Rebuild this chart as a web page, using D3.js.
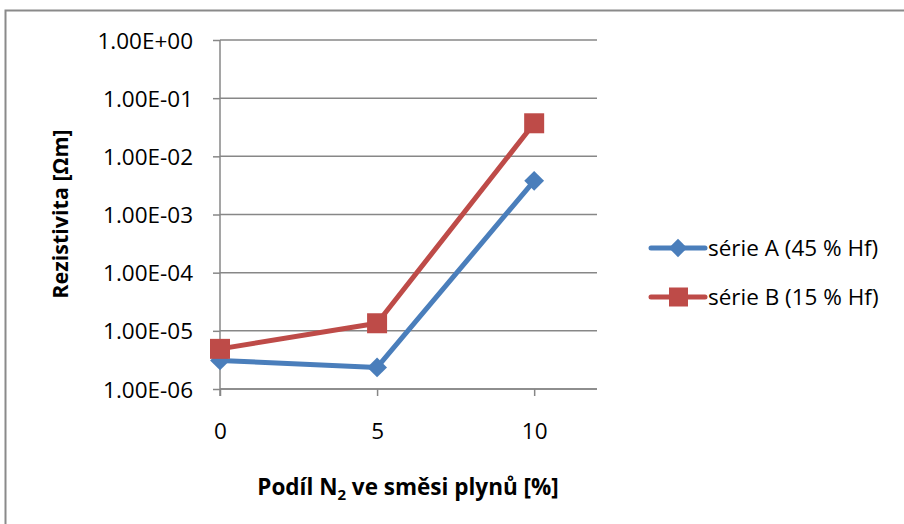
<!DOCTYPE html>
<html>
<head>
<meta charset="utf-8">
<script src="https://cdn.jsdelivr.net/npm/d3@7"></script>
<style>
  html, body { margin: 0; padding: 0; background: #fff; }
  svg { display: block; }
  text { font-family: "Open Sans", Lato, sans-serif; fill: #000; }
</style>
</head>
<body>
<svg id="chart" width="904" height="524"></svg>
<script>
// Podíl N2 v plynné směsi [%]
const nitrogenShare = [0, 5, 10];
// Rezistivita [Ωm]
const seriesA = [3.1e-6, 2.35e-6, 3.8e-3];
const seriesB = [4.9e-6, 1.35e-5, 3.7e-2];
const seriesNames = ["série A (45 % Hf)", "série B (15 % Hf)"];
const xTickValues = [0, 5, 10];
const xTickLabels = ["0", "5", "10"];
const yTickValues = [1, 1e-1, 1e-2, 1e-3, 1e-4, 1e-5, 1e-6];
const yTickLabels = ["1.00E+00", "1.00E-01", "1.00E-02", "1.00E-03", "1.00E-04", "1.00E-05", "1.00E-06"];

const svg = d3.select("#chart");
const font = "'Open Sans', Lato, sans-serif";
const labelSize = 22.5;
const gridColor = "#878787";
const blue = "#4A7EBB";
const red = "#BE4B48";

// outer chart frame
svg.append("path")
  .attr("d", "M5.5,530 V10.5 H910")
  .attr("fill", "none")
  .attr("stroke", "#8a8a8a")
  .attr("stroke-width", 2);

const x = d3.scaleLinear().domain([0, 12]).range([220, 597]);
const y = d3.scaleLog().domain([1e-6, 1]).range([389, 40]);

// horizontal gridlines
svg.append("g")
  .selectAll("line")
  .data(yTickValues)
  .join("line")
  .attr("x1", x(0)).attr("x2", x(12))
  .attr("y1", d => y(d)).attr("y2", d => y(d))
  .attr("stroke", gridColor)
  .attr("stroke-width", 1.5);

// y axis
const yAxis = d3.axisLeft(y)
  .tickValues(yTickValues)
  .tickFormat((d, i) => yTickLabels[i])
  .tickSize(7)
  .tickPadding(20);
const gy = svg.append("g").attr("transform", `translate(${x(0)},0)`).call(yAxis);
gy.select(".domain").remove();
gy.selectAll(".tick line").attr("stroke", gridColor).attr("stroke-width", 1.5);
gy.selectAll(".tick text")
  .attr("font-family", font)
  .attr("font-size", labelSize)
  .attr("dy", "0.36em")
  .attr("fill", "#000");
svg.append("line")
  .attr("x1", x(0)).attr("x2", x(0))
  .attr("y1", y(1)).attr("y2", y(1e-6) + 7)
  .attr("stroke", gridColor).attr("stroke-width", 1.5);

// x axis
const xAxis = d3.axisBottom(x)
  .tickValues(xTickValues)
  .tickFormat((d, i) => xTickLabels[i])
  .tickSize(7);
const gx = svg.append("g").attr("transform", `translate(0,${y(1e-6)})`).call(xAxis);
gx.select(".domain").remove();
gx.selectAll(".tick line").attr("stroke", gridColor).attr("stroke-width", 1.5);
gx.selectAll(".tick text")
  .attr("font-family", font)
  .attr("font-size", labelSize)
  .attr("y", 50)
  .attr("dy", 0)
  .attr("fill", "#000");
svg.append("line")
  .attr("x1", x(0)).attr("x2", x(12))
  .attr("y1", y(1e-6)).attr("y2", y(1e-6))
  .attr("stroke", gridColor).attr("stroke-width", 1.5);

// axis titles
svg.append("text")
  .attr("transform", `translate(68,214) rotate(-90)`)
  .attr("text-anchor", "middle")
  .attr("font-weight", "bold")
  .attr("font-size", 21.5)
  .text("Rezistivita [Ωm]");

const xt = svg.append("text")
  .attr("x", 408).attr("y", 495)
  .attr("text-anchor", "middle")
  .attr("font-weight", "bold")
  .attr("font-size", 22.5);
xt.append("tspan").text("Podíl N");
xt.append("tspan").attr("font-size", 15).attr("dy", 5).text("2");
xt.append("tspan").attr("dy", -5).text(" ve směsi plynů [%]");

// series
const line = d3.line().x(d => x(d[0])).y(d => y(d[1]));
const ptsA = nitrogenShare.map((v, i) => [v, seriesA[i]]);
const ptsB = nitrogenShare.map((v, i) => [v, seriesB[i]]);

svg.append("path").datum(ptsA).attr("d", line)
  .attr("fill", "none").attr("stroke", blue).attr("stroke-width", 5).attr("stroke-linejoin", "round");
svg.append("g").selectAll("path").data(ptsA).join("path")
  .attr("transform", d => `translate(${x(d[0])},${y(d[1])}) rotate(45)`)
  .attr("d", "M-7,-7H7V7H-7Z")
  .attr("fill", blue);

svg.append("path").datum(ptsB).attr("d", line)
  .attr("fill", "none").attr("stroke", red).attr("stroke-width", 5).attr("stroke-linejoin", "round");
svg.append("g").selectAll("rect").data(ptsB).join("rect")
  .attr("x", d => x(d[0]) - 10).attr("y", d => y(d[1]) - 10)
  .attr("width", 20).attr("height", 20)
  .attr("fill", red);

// legend
const legend = svg.append("g");
const legendRows = [
  { name: seriesNames[0], color: blue, marker: "diamond", y: 248 },
  { name: seriesNames[1], color: red, marker: "square", y: 297 }
];
legendRows.forEach(r => {
  legend.append("line")
    .attr("x1", 651).attr("x2", 705)
    .attr("y1", r.y).attr("y2", r.y)
    .attr("stroke", r.color).attr("stroke-width", 5).attr("stroke-linecap", "round");
  if (r.marker === "diamond") {
    legend.append("path")
      .attr("transform", `translate(678,${r.y}) rotate(45)`)
      .attr("d", "M-6.5,-6.5H6.5V6.5H-6.5Z")
      .attr("fill", r.color);
  } else {
    legend.append("rect")
      .attr("x", 669).attr("y", r.y - 9.5)
      .attr("width", 19).attr("height", 19)
      .attr("fill", r.color);
  }
  legend.append("text")
    .attr("x", 708).attr("y", r.y + 8)
    .attr("font-family", font)
    .attr("font-size", labelSize)
    .text(r.name);
});
</script>
</body>
</html>
